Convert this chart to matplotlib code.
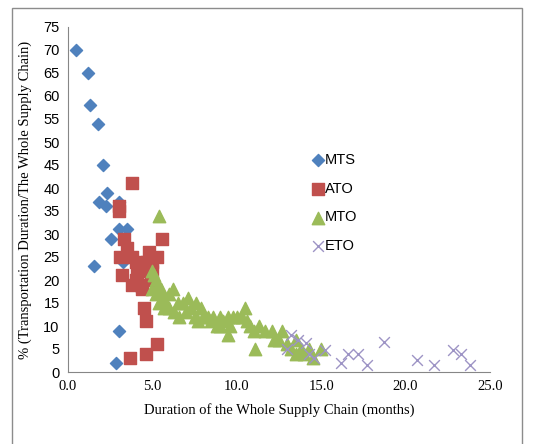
import matplotlib
matplotlib.use("Agg")
import matplotlib.pyplot as plt
from matplotlib.patches import Rectangle

# ---- data ----
mts_x = [0.5, 1.2, 1.3, 1.8, 2.1, 2.3, 1.85, 2.25, 3.0, 3.0, 3.5, 2.55, 1.55, 3.25, 3.0, 2.85]
mts_y = [70, 65, 58, 54, 45, 39, 37, 36, 37, 31, 31, 29, 23, 24, 9, 2]

ato_x = [3.8, 3.0, 3.0, 3.3, 3.5, 3.1, 3.8, 4.0, 4.8, 5.25, 4.95, 5.55, 3.2, 3.8, 4.1, 4.3,
         4.4, 4.85, 5.0, 4.0, 4.5, 4.5, 4.6, 5.25, 4.6, 3.7, 4.9, 4.7]
ato_y = [41, 35, 36, 29, 27, 25, 25, 24, 26, 25, 24, 29, 21, 19, 21, 19,
         18, 23, 22, 20, 22, 14, 11, 6, 4, 3, 20, 24]

mto_x = [5.4, 5.0, 5.1, 5.2, 5.3, 5.0, 5.5, 5.2, 5.6, 5.8, 5.4, 6.0, 6.2, 6.5, 6.0, 6.3,
         6.8, 7.1, 7.3, 7.0, 7.6, 7.9, 8.0, 8.3, 7.5, 8.6, 9.0, 9.2, 9.5, 9.8, 10.0, 10.5,
         9.6, 9.5, 8.8, 7.7, 10.3, 10.8, 11.3, 11.0, 11.7, 11.1, 12.1, 12.5, 12.7, 13.0,
         13.2, 13.5, 13.8, 14.0, 14.3, 14.5, 15.0, 12.2, 13.5, 6.6, 5.7, 8.5, 9.0, 10.6]
mto_y = [34, 22, 21, 20, 19, 18, 18, 17, 16, 15, 15, 17, 18, 15, 14, 13,
         15, 16, 14, 13, 15, 14, 12, 12, 12, 12, 12, 11, 12, 12, 12, 14,
         10, 8, 10, 11, 12, 10, 10, 9, 9, 5, 9, 7, 9, 6,
         5, 7, 5, 4, 5, 3, 5, 7, 4, 12, 14, 11, 10, 11]

eto_x = [13.2, 13.6, 14.1, 14.6, 15.2, 13.0, 14.3, 16.2, 16.6, 17.2, 17.7, 18.7,
         20.7, 21.7, 22.8, 23.3, 23.8]
eto_y = [8, 7, 6.3, 3, 4.8, 5, 4, 2, 4, 4, 1.5, 6.5, 2.6, 1.5, 4.8, 4, 1.5]

series_names = ["MTS", "ATO", "MTO", "ETO"]

W, H = 537, 444
fig = plt.figure(figsize=(W / 100, H / 100), dpi=100)
ax = fig.add_axes([68 / W, 72 / H, (490 - 68) / W, (372 - 27) / H])

ax.scatter(mts_x, mts_y, marker="D", s=38, color="#4F81BD", label=series_names[0], zorder=3)
ax.scatter(ato_x, ato_y, marker="s", s=75, color="#C0504D", label=series_names[1], zorder=3)
ax.scatter(mto_x, mto_y, marker="^", s=80, color="#9BBB59", label=series_names[2], zorder=3)
ax.scatter(eto_x, eto_y, marker="x", s=60, color="#9D94C5", linewidths=1.0,
           label=series_names[3], zorder=4)

ax.set_xlim(0, 25)
ax.set_ylim(0, 75)
ax.set_xticks([0, 5, 10, 15, 20, 25])
ax.set_xticklabels(["0.0", "5.0", "10.0", "15.0", "20.0", "25.0"],
                   family="Liberation Serif", fontsize=10.5)
ax.set_yticks(range(0, 76, 5))
ax.set_yticklabels([str(v) for v in range(0, 76, 5)],
                   family=["Liberation Sans Narrow", "Liberation Sans"], fontsize=10.5)
ax.tick_params(length=0, pad=6)
for s in ["top", "right"]:
    ax.spines[s].set_visible(False)
for s in ["left", "bottom"]:
    ax.spines[s].set_color("#868686")

ax.set_xlabel("Duration of the Whole Supply Chain (months)", family="Liberation Serif",
              fontsize=10.5, labelpad=7)
ax.set_ylabel("% (Transportation Duration/The Whole Supply Chain)", family="Liberation Serif",
              fontsize=10.5, labelpad=8)

leg = ax.legend(loc="upper left", bbox_to_anchor=(303 / W, 1 - 146 / H),
                bbox_transform=fig.transFigure, frameon=False, handletextpad=0.0,
                handlelength=1.0, labelspacing=1.0, borderpad=0,
                prop={"family": ["Liberation Sans Narrow", "Liberation Sans"], "size": 10.5})

fig.patches.append(Rectangle((12 / W, -0.01), (522 - 12) / W, 1 - 8 / H + 0.01,
                             transform=fig.transFigure, fill=False,
                             edgecolor="#8C8C8C", linewidth=1.0))

fig.savefig("out.png", dpi=100)
